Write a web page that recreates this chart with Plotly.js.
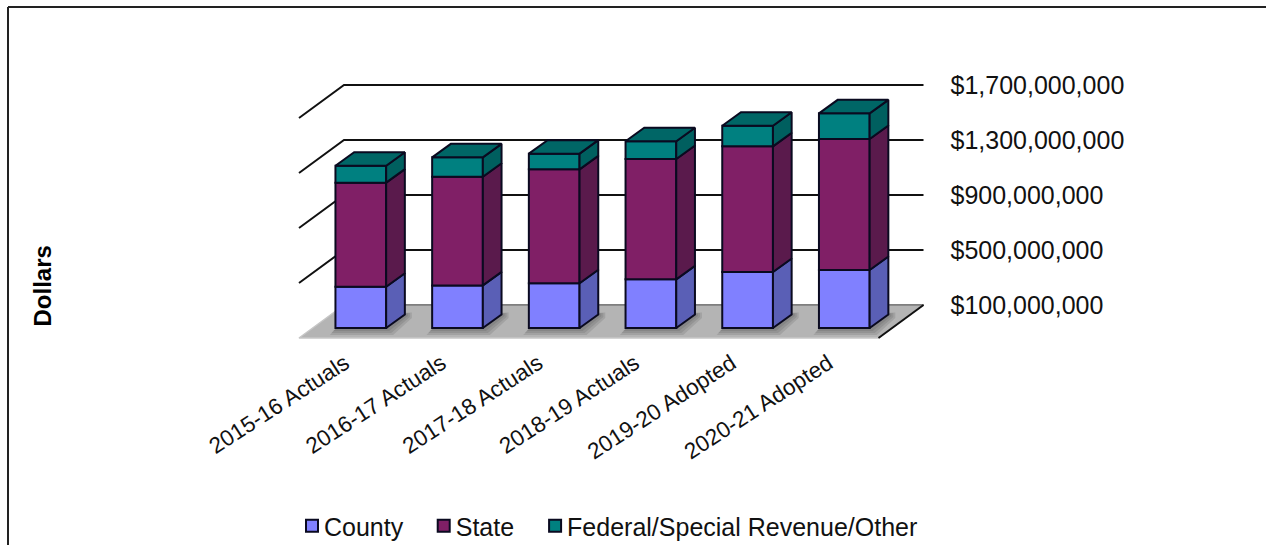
<!DOCTYPE html>
<html>
<head>
<meta charset="utf-8">
<script src="https://cdn.plot.ly/plotly-3.0.1.min.js"></script>
<style>html,body{margin:0;padding:0;background:#fff}#c{width:1266px;height:545px}</style>
</head>
<body>
<div id="c"></div>
<script>
// ---- data ----
var categories = ['2015-16 Actuals','2016-17 Actuals','2017-18 Actuals','2018-19 Actuals','2019-20 Adopted','2020-21 Adopted'];
var county = [400e6,410e6,425e6,454e6,507e6,522e6];
var state  = [757e6,790e6,829e6,875e6,914e6,953e6];
var federal= [123e6,141e6,114e6,129e6,150e6,186e6];
var axisValues = [100e6,500e6,900e6,1300e6,1700e6];
var axisLabels = ['$100,000,000','$500,000,000','$900,000,000','$1,300,000,000','$1,700,000,000'];

// ---- view geometry ----
var W=1266,H=545;
var pxPerCat=96.7, cat0Px=360.8;
var pxPerDollar=55/400e6;
var barBaseValue=100e6;
var barBasePx=328, wallBasePx=305;
var font='Liberation Sans, Arial, sans-serif';
function xRangeFor(){return [-cat0Px/pxPerCat,(W-cat0Px)/pxPerCat];}
function yRangeFor(basePx){return [barBaseValue-(H-basePx)/pxPerDollar,barBaseValue+basePx/pxPerDollar];}
var barWidth=50.7/pxPerCat;
var dX=18.7/pxPerCat, dY=13.5/pxPerDollar;          // bar depth
var floorDX=45/pxPerCat, floorDY=33/pxPerDollar;     // floor depth
var wallLeft=(344-cat0Px)/pxPerCat, wallRight=(923.5-cat0Px)/pxPerCat;
var barToWall=(barBasePx-wallBasePx)/pxPerDollar;    // bar plane value -> wall axis value

var x=categories.map(function(_,i){return i;});

// ---- wall, side lines and floor (wall axis) ----
var traces=[];
var gx=[],gy=[];
axisValues.forEach(function(v,i){
  if(i>0){gx.push(wallLeft-floorDX);gy.push(v-floorDY);}
  gx.push(wallLeft,wallRight,null);gy.push(v,v,null);
});
traces.push({type:'scatter',mode:'lines',x:gx,y:gy,xaxis:'x',yaxis:'y',showlegend:false,hoverinfo:'skip',
  line:{color:'#111',width:2}});
var b=axisValues[0];
traces.push({type:'scatter',mode:'lines',fill:'toself',fillcolor:'#b4b4b4',xaxis:'x',yaxis:'y',showlegend:false,hoverinfo:'skip',
  x:[wallLeft,wallRight,wallRight-floorDX,wallLeft-floorDX,wallLeft],
  y:[b,b,b-floorDY,b-floorDY,b],line:{color:'#c6c6c6',width:1.5}});
traces.push({type:'scatter',mode:'lines',xaxis:'x',yaxis:'y',showlegend:false,hoverinfo:'skip',
  x:[wallLeft,wallRight],y:[b,b],line:{color:'#777',width:1.5}});
traces.push({type:'scatter',mode:'lines',xaxis:'x',yaxis:'y',showlegend:false,hoverinfo:'skip',
  x:[wallRight,wallRight-floorDX],y:[b,b-floorDY],line:{color:'#111',width:2}});
// soft shadow of each bar on the floor
[7,5,3].forEach(function(pad){
  var px=pad/pxPerCat, py=pad/pxPerDollar, sx=[], sy=[], y0=b-barToWall;
  x.forEach(function(c){
    var l=c-barWidth/2-px*0.8, r=c+barWidth/2+px;
    sx.push(l,r,r+dX,r+dX,l+dX,l,null);
    sy.push(y0-py,y0-py,y0+dY-py*0.5,y0+dY+py*0.3,y0+dY,y0-py,null);
  });
  traces.push({type:'scatter',mode:'lines',fill:'toself',fillcolor:'rgba(50,50,50,0.13)',x:sx,y:sy,xaxis:'x',yaxis:'y',
    showlegend:false,hoverinfo:'skip',line:{width:0}});
});

// ---- bar fronts ----
var series=[
 {name:'County',v:county,front:'#8080ff',side:'#5a5fb6'},
 {name:'State',v:state,front:'#801f66',side:'#5a1a4c'},
 {name:'Federal/Special Revenue/Other',v:federal,front:'#008080',side:'#005f5f'}
];
var outline={color:'#0a0a20',width:2};
var cum=x.map(function(){return 0;});
var sideTraces=[];
series.forEach(function(s){
  // the value axis starts at its lowest tick, so bars are cut off there
  var lows=cum.map(function(c){return Math.max(c,barBaseValue);});
  var tops=cum.map(function(c,i){return c+s.v[i];});
  var heights=tops.map(function(t,i){return t-lows[i];});
  traces.push({type:'bar',name:s.name,x:x,y:heights,base:lows,width:barWidth,xaxis:'x',yaxis:'y2',
    marker:{color:s.front,line:outline},hoverinfo:'name'});
  var sx=[],sy=[];
  x.forEach(function(c,i){
    var r=c+barWidth/2, lo=lows[i], hi=tops[i];
    sx.push(r,r+dX,r+dX,r,r,null);
    sy.push(lo,lo+dY,hi+dY,hi,lo,null);
  });
  sideTraces.push({type:'scatter',mode:'lines',fill:'toself',fillcolor:s.side,x:sx,y:sy,xaxis:'x',yaxis:'y2',
    showlegend:false,hoverinfo:'skip',line:{color:'#0a0a20',width:2}});
  cum=tops;
});
// top faces
var tx=[],ty=[];
x.forEach(function(c,i){
  var l=c-barWidth/2,r=c+barWidth/2,t=cum[i];
  tx.push(l,r,r+dX,l+dX,l,null);
  ty.push(t,t,t+dY,t+dY,t,null);
});
sideTraces.push({type:'scatter',mode:'lines',fill:'toself',fillcolor:'#006666',x:tx,y:ty,xaxis:'x',yaxis:'y2',
  showlegend:false,hoverinfo:'skip',line:{color:'#0a0a20',width:2}});
traces=traces.concat(sideTraces);

var layout={
  width:W,height:H,margin:{l:0,r:0,t:0,b:0,pad:0,autoexpand:false},
  paper_bgcolor:'#fff',plot_bgcolor:'rgba(0,0,0,0)',
  font:{family:font,color:'#111'},
  barmode:'overlay',showlegend:true,
  xaxis:{range:xRangeFor(),domain:[0,1],anchor:'free',position:1-345/H,
    tickmode:'array',tickvals:x,ticktext:categories,tickangle:-33,ticklabelshift:-16,
    tickfont:{family:font,size:22.5,color:'#111'},ticks:'',showgrid:false,zeroline:false,showline:false,fixedrange:true},
  yaxis:{range:yRangeFor(wallBasePx),domain:[0,1],anchor:'free',position:wallRight*pxPerCat/W+cat0Px/W,side:'right',
    tickmode:'array',tickvals:axisValues,ticktext:axisLabels,ticklabelstandoff:26,
    tickfont:{family:font,size:25,color:'#111'},ticks:'',showgrid:false,zeroline:false,showline:false,fixedrange:true},
  yaxis2:{range:yRangeFor(barBasePx),overlaying:'y',visible:false,fixedrange:true},
  legend:{orientation:'h',x:284/W,xanchor:'left',y:1-526/H,yanchor:'middle',
    font:{family:font,size:25,color:'#111'},bgcolor:'rgba(0,0,0,0)',borderwidth:0},
  annotations:[{text:'<b>Dollars</b>',xref:'paper',yref:'paper',x:42/W,y:1-286.5/H,xanchor:'center',yanchor:'middle',
    showarrow:false,textangle:-90,font:{family:font,size:24,color:'#000'}}],
  shapes:[
    {type:'line',xref:'paper',yref:'paper',x0:8/W,x1:1,y0:1-7/H,y1:1-7/H,line:{color:'#222',width:2}},
    {type:'line',xref:'paper',yref:'paper',x0:8/W,x1:8/W,y0:1-7/H,y1:0,line:{color:'#222',width:2}}
  ]
};
var legendGapFix=[0,7,15];
Plotly.newPlot('c',traces,layout,{displayModeBar:false}).then(function(){
  document.querySelectorAll('.legend .legendsymbols').forEach(function(g){g.setAttribute('transform','translate(8,0)');});
  document.querySelectorAll('.legend .traces').forEach(function(g,i){
    var m=/translate\(([-\d.]+),\s*([-\d.]+)\)/.exec(g.getAttribute('transform')||'');
    if(m) g.setAttribute('transform','translate('+(parseFloat(m[1])+legendGapFix[i])+','+m[2]+')');
  });
  document.querySelectorAll('.legend [clip-path]').forEach(function(g){g.removeAttribute('clip-path');});
});
</script>
</body>
</html>
